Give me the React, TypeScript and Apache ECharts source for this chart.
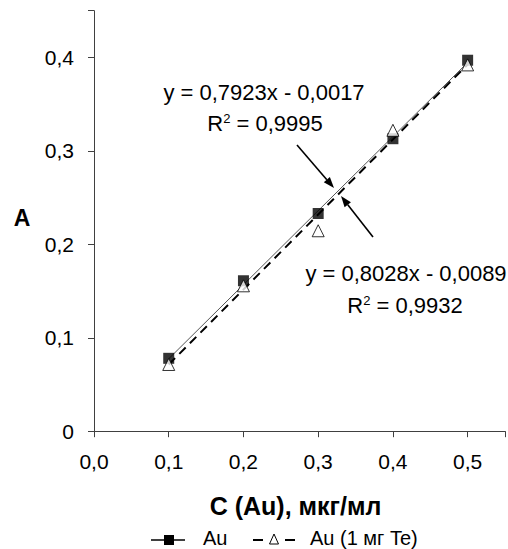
import React, { useEffect, useRef } from "react";
import * as echarts from "echarts";

const concentrations = [0.1, 0.2, 0.3, 0.4, 0.5];
const auValues = [0.078, 0.161, 0.233, 0.313, 0.397];
const auTeValues = [0.0714, 0.1556, 0.2145, 0.322, 0.392];
const auTrendX = [0.1, 0.5];
const auTrendY = [0.0775, 0.3945];
const auTeTrendY = [0.0714, 0.3925];
const seriesNames = ["Au", "Au (1 мг Te)"];
const eq1 = ["y = 0,7923x - 0,0017", "0,9995"];
const eq2 = ["y = 0,8028x - 0,0089", "0,9932"];

const FONT = "'Liberation Sans', Arial, sans-serif";

function arrow(x1: number, y1: number, x2: number, y2: number) {
  const ang = Math.atan2(y2 - y1, x2 - x1);
  const L = 11, W = 4;
  const bx = x2 - L * Math.cos(ang), by = y2 - L * Math.sin(ang);
  const px = -Math.sin(ang) * W, py = Math.cos(ang) * W;
  return [
    { type: "line", shape: { x1, y1, x2: bx, y2: by }, style: { stroke: "#000", lineWidth: 1.6 } },
    { type: "polygon", shape: { points: [[x2, y2], [bx + px, by + py], [bx - px, by - py]] }, style: { fill: "#000" } },
  ];
}

const supRich = { sup: { fontSize: 13, verticalAlign: "top", padding: [0, 0, 10, 0], fontFamily: FONT } };

export default function App() {
  const ref = useRef<HTMLDivElement>(null);
  useEffect(() => {
    const chart = echarts.init(ref.current!, null, { renderer: "svg" });
    const fmt = (v: number) => v.toFixed(1).replace(".", ",");
    const textStyle = { fontFamily: FONT, fontSize: 21, color: "#000" };
    const LY = 540;
    chart.setOption({
      animation: false,
      grid: { left: 94, top: 10.7, width: 415, height: 420.5 },
      xAxis: {
        type: "value", min: 0, max: 0.55, interval: 0.1,
        axisLine: { lineStyle: { color: "#404040", width: 1 } },
        axisTick: { show: true, length: 6, lineStyle: { color: "#404040" } },
        splitLine: { show: false },
        axisLabel: { ...textStyle, margin: 20, formatter: (v: number) => (v > 0.5 ? "" : fmt(v)) },
        name: "C (Au), мкг/мл", nameLocation: "middle", nameGap: 62,
        nameTextStyle: { ...textStyle, fontWeight: "bold", fontSize: 25, padding: [0, 8, 0, 0] },
      },
      yAxis: {
        type: "value", min: 0, max: 0.45, interval: 0.1,
        axisLine: { show: true, lineStyle: { color: "#404040", width: 1 } },
        axisTick: { show: true, length: 6, lineStyle: { color: "#404040" } },
        splitLine: { show: false },
        axisLabel: { ...textStyle, margin: 20, formatter: (v: number) => (v === 0 ? "0" : v > 0.4 ? "" : fmt(v)) },
      },
      series: [
        {
          type: "line", name: seriesNames[0] + " trend", silent: true, symbol: "none",
          data: auTrendX.map((x, i) => [x, auTrendY[i]]),
          lineStyle: { color: "#555", width: 1 }, z: 2,
        },
        {
          type: "line", name: seriesNames[1] + " trend", silent: true, symbol: "none",
          data: auTrendX.map((x, i) => [x, auTeTrendY[i]]),
          lineStyle: { color: "#000", width: 2, type: [9, 6] }, z: 2,
        },
        {
          type: "scatter", name: seriesNames[0], symbol: "rect", symbolSize: 11,
          data: concentrations.map((x, i) => [x, auValues[i]]),
          itemStyle: { color: "#000" }, z: 3,
        },
        {
          type: "scatter", name: seriesNames[1], symbol: "triangle", symbolSize: 12,
          data: concentrations.map((x, i) => [x, auTeValues[i]]),
          itemStyle: { color: "#fff", borderColor: "#000", borderWidth: 1 }, z: 4,
        },
      ],
      graphic: [
        { type: "text", x: 22, y: 218, style: { text: "A", font: `bold 23px ${FONT}`, fill: "#000", align: "center", verticalAlign: "middle" } },
        { type: "text", x: 264, y: 92, style: { text: eq1[0], font: `22px ${FONT}`, fill: "#000", align: "center", verticalAlign: "middle" } },
        {
          type: "text", x: 265, y: 123,
          style: { text: "R{sup|2} = " + eq1[1], font: `22px ${FONT}`, fill: "#000", align: "center", verticalAlign: "middle", rich: supRich },
        },
        { type: "text", x: 406, y: 273, style: { text: eq2[0], font: `22px ${FONT}`, fill: "#000", align: "center", verticalAlign: "middle" } },
        {
          type: "text", x: 405, y: 305,
          style: { text: "R{sup|2} = " + eq2[1], font: `22px ${FONT}`, fill: "#000", align: "center", verticalAlign: "middle", rich: supRich },
        },
        ...arrow(297, 145, 334, 188),
        ...arrow(373, 237, 341, 196),
        // legend
        { type: "line", shape: { x1: 151, y1: LY, x2: 185, y2: LY }, style: { stroke: "#000", lineWidth: 1.5 } },
        { type: "rect", shape: { x: 164, y: LY - 5, width: 10, height: 10 }, style: { fill: "#000" } },
        { type: "text", x: 203, y: LY - 2, style: { text: seriesNames[0], font: `20px ${FONT}`, fill: "#000", verticalAlign: "middle" } },
        { type: "line", shape: { x1: 253, y1: LY, x2: 263, y2: LY }, style: { stroke: "#000", lineWidth: 2 } },
        { type: "line", shape: { x1: 285, y1: LY, x2: 295, y2: LY }, style: { stroke: "#000", lineWidth: 2 } },
        { type: "polygon", shape: { points: [[274, LY - 6], [269.5, LY + 4], [278.5, LY + 4]] }, style: { fill: "#fff", stroke: "#000", lineWidth: 1 } },
        { type: "text", x: 310, y: LY - 2, style: { text: seriesNames[1], font: `20px ${FONT}`, fill: "#000", verticalAlign: "middle" } },
      ],
    });
    return () => chart.dispose();
  }, []);
  return <div ref={ref} style={{ position: "fixed", left: 0, top: 0, width: 508, height: 549, background: "#fff" }} />;
}
